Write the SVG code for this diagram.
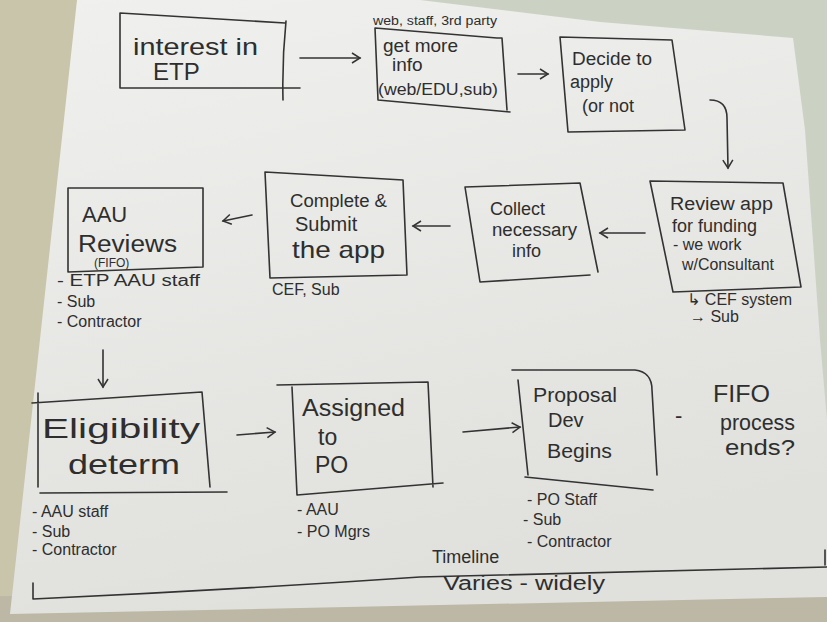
<svg xmlns="http://www.w3.org/2000/svg" width="827" height="622" viewBox="0 0 827 622">
<defs>
<linearGradient id="paper" x1="0" y1="0" x2="0.3" y2="1">
<stop offset="0" stop-color="#f0f0ee"/>
<stop offset="1" stop-color="#e0e0dd"/>
</linearGradient>
<marker id="ah" viewBox="0 0 12 12" refX="10" refY="6" markerWidth="12" markerHeight="12" markerUnits="userSpaceOnUse" orient="auto">
<path d="M2,1 L10,6 L2,11" fill="none" stroke="#333" stroke-width="1.5"/>
</marker>
<style>
.ln{fill:none;stroke:#333;stroke-width:1.6;stroke-linecap:round;stroke-linejoin:round}
.t{font-family:"Liberation Sans","DejaVu Sans",sans-serif;fill:#2e2e2e}
.s16{font-size:16px}
.s18{font-size:18px}
.s20{font-size:20px}
.s24{font-size:24px}
</style>
</defs>
<!-- background and paper -->
<rect x="0" y="0" width="827" height="622" fill="#c9c5aa"/>
<polygon points="400,0 827,0 827,600 760,600" fill="#ccd2c3"/>
<rect x="0" y="596" width="827" height="26" fill="#bcb8a5"/>
<polygon points="77,0 420,0 600,22 793,38 805,130 820,340 827,420 827,597 10,614" fill="url(#paper)"/>

<!-- connectors -->
<g id="connectors" class="ln">
<path d="M300,58 L360,58" marker-end="url(#ah)"/>
<path d="M518,74 L548,74" marker-end="url(#ah)"/>
<path d="M710,100 Q727,100 727,118 L728,168" marker-end="url(#ah)"/>
<path d="M645,233 L600,233" marker-end="url(#ah)"/>
<path d="M450,226 L413,226" marker-end="url(#ah)"/>
<path d="M252,215 L223,221" marker-end="url(#ah)"/>
<path d="M103,350 L103,387" marker-end="url(#ah)"/>
<path d="M237,435 L275,432" marker-end="url(#ah)"/>
<path d="M463,432 L520,427" marker-end="url(#ah)"/>
</g>

<g id="n-interest">
<path class="ln" d="M120,13 L285,23 M120,13 L120,88 L300,88 M286,21 Q282,60 283,100"/>
<text class="t s24" x="133" y="55" textLength="125" lengthAdjust="spacingAndGlyphs">interest in</text>
<text class="t s24" x="153" y="80">ETP</text>
</g>

<g id="n-getinfo">
<text class="t" font-size="12" x="373" y="25" textLength="124" lengthAdjust="spacingAndGlyphs">web, staff, 3rd party</text>
<path class="ln" d="M375,28 L497,38 L502,38 L507,110 M375,28 L378,100 L510,112"/>
<text class="t" font-size="19" x="383" y="52">get more</text>
<text class="t" font-size="19" x="392" y="71">info</text>
<text class="t" font-size="17" x="378" y="95" textLength="120" lengthAdjust="spacingAndGlyphs">(web/EDU,sub)</text>
</g>

<g id="n-decide">
<path class="ln" d="M560,37 L672,40 L685,130 L568,132 Z"/>
<text class="t s18" x="572" y="65" textLength="80" lengthAdjust="spacingAndGlyphs">Decide to</text>
<text class="t s18" x="570" y="88">apply</text>
<text class="t s18" x="582" y="112">(or not</text>
</g>

<g id="n-review">
<path class="ln" d="M650,181 L783,183 L801,287 L673,292 Z"/>
<text class="t s18" x="670" y="210" textLength="103" lengthAdjust="spacingAndGlyphs">Review app</text>
<text class="t s18" x="672" y="232">for funding</text>
<text class="t s16" x="673" y="250">- we work</text>
<text class="t s16" x="682" y="270" textLength="92" lengthAdjust="spacingAndGlyphs">w/Consultant</text>
<text class="t s16" x="687" y="305">↳ CEF system</text>
<text class="t s16" x="690" y="322">→ Sub</text>
</g>

<g id="n-collect">
<path class="ln" d="M465,187 L580,183 L598,272 M590,275 L480,282 L465,187"/>
<text class="t s18" x="490" y="215">Collect</text>
<text class="t s18" x="492" y="236" textLength="85" lengthAdjust="spacingAndGlyphs">necessary</text>
<text class="t s18" x="512" y="257">info</text>
</g>

<g id="n-complete">
<path class="ln" d="M265,172 L403,180 L407,275 L270,278 Z"/>
<text class="t s18" x="290" y="207" textLength="97" lengthAdjust="spacingAndGlyphs">Complete &amp;</text>
<text class="t s20" x="295" y="231">Submit</text>
<text class="t s24" x="292" y="258" textLength="93" lengthAdjust="spacingAndGlyphs">the app</text>
<text class="t s16" x="272" y="295">CEF, Sub</text>
</g>

<g id="n-aau">
<path class="ln" d="M68,188 L203,188 L203,267 L68,272 Z"/>
<text class="t" font-size="22" x="82" y="222">AAU</text>
<text class="t" font-size="23" x="78" y="252" textLength="99" lengthAdjust="spacingAndGlyphs">Reviews</text>
<text class="t" font-size="12" x="94" y="267">(FIFO)</text>
<text class="t s16" x="57" y="286" textLength="143" lengthAdjust="spacingAndGlyphs">- ETP AAU staff</text>
<text class="t s16" x="57" y="307">- Sub</text>
<text class="t s16" x="57" y="327">- Contractor</text>
</g>

<g id="n-eligibility">
<path class="ln" d="M32,403 L202,392 L210,487 M38,393 L38,487 M40,493 L227,492"/>
<text class="t" font-size="28" x="42" y="438" textLength="158" lengthAdjust="spacingAndGlyphs">Eligibility</text>
<text class="t" font-size="28" x="68" y="474" textLength="112" lengthAdjust="spacingAndGlyphs">determ</text>
<text class="t s16" x="32" y="517">- AAU staff</text>
<text class="t s16" x="32" y="537">- Sub</text>
<text class="t s16" x="32" y="555">- Contractor</text>
</g>

<g id="n-assigned">
<path class="ln" d="M277,385 L428,382 L433,487 M292,387 L297,495 L443,483"/>
<text class="t" font-size="23" x="302" y="416" textLength="103" lengthAdjust="spacingAndGlyphs">Assigned</text>
<text class="t" font-size="23" x="318" y="445">to</text>
<text class="t" font-size="23" x="315" y="473">PO</text>
<text class="t s16" x="297" y="515">- AAU</text>
<text class="t s16" x="297" y="537">- PO Mgrs</text>
</g>

<g id="n-proposal">
<path class="ln" d="M512,370 L635,370 Q652,372 652,390 L657,475 M518,380 L528,475 M525,477 L653,490"/>
<text class="t s20" x="533" y="402" textLength="84" lengthAdjust="spacingAndGlyphs">Proposal</text>
<text class="t s20" x="548" y="427">Dev</text>
<text class="t s20" x="547" y="458" textLength="65" lengthAdjust="spacingAndGlyphs">Begins</text>
<text class="t s16" x="527" y="505">- PO Staff</text>
<text class="t s16" x="523" y="525">- Sub</text>
<text class="t s16" x="527" y="547">- Contractor</text>
</g>

<g id="n-fifo">
<text class="t" font-size="22" x="675" y="423">-</text>
<text class="t" font-size="24" x="713" y="402" textLength="57" lengthAdjust="spacingAndGlyphs">FIFO</text>
<text class="t" font-size="22" x="720" y="430" textLength="75" lengthAdjust="spacingAndGlyphs">process</text>
<text class="t" font-size="22" x="725" y="455" textLength="70" lengthAdjust="spacingAndGlyphs">ends?</text>
</g>

<g id="n-timeline">
<path class="ln" d="M33,583 L33,599 Q230,590 420,577 L827,567 M825,550 L825,565"/>
<text class="t s18" x="432" y="563">Timeline</text>
<text class="t s20" x="443" y="590" textLength="162" lengthAdjust="spacingAndGlyphs">Varies - widely</text>
</g>
</svg>
